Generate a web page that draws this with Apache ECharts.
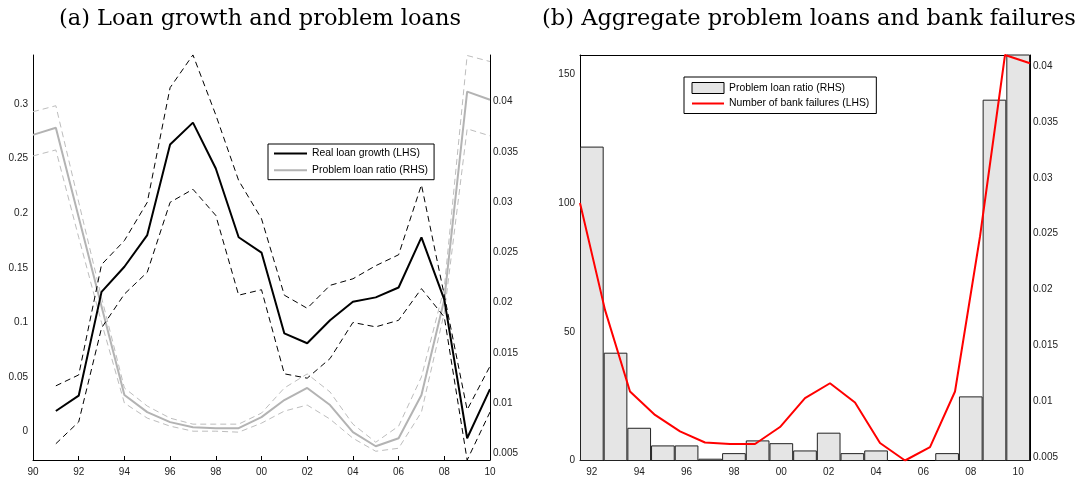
<!DOCTYPE html>
<html><head><meta charset="utf-8">
<script src="https://cdn.jsdelivr.net/npm/echarts@6/dist/echarts.min.js"></script>
<style>html,body{margin:0;padding:0;background:#fff}#c{width:1086px;height:480px}</style>
</head><body><div id="c"></div>
<script>
// ---- Panel (a) data ----
const yearsA = ['90','91','92','93','94','95','96','97','98','99','00','01','02','03','04','05','06','07','08','09','10'];
const loanGrowth      = [null, 0.019, 0.033, 0.128, 0.151, 0.180, 0.263, 0.283, 0.241, 0.178, 0.164, 0.090, 0.081, 0.102, 0.119, 0.123, 0.132, 0.178, 0.121, -0.006, 0.039];
const loanGrowthUpper = [null, 0.042, 0.052, 0.153, 0.175, 0.210, 0.315, 0.345, 0.290, 0.230, 0.195, 0.125, 0.113, 0.134, 0.140, 0.152, 0.162, 0.226, 0.125, 0.020, 0.060];
const loanGrowthLower = [null, -0.011, 0.009, 0.095, 0.126, 0.146, 0.210, 0.222, 0.198, 0.125, 0.130, 0.053, 0.049, 0.067, 0.100, 0.096, 0.102, 0.131, 0.105, -0.026, 0.018];
const problemRatio      = [0.0367, 0.0374, 0.0285, 0.0196, 0.0108, 0.0091, 0.0081, 0.0076, 0.0075, 0.0075, 0.0086, 0.0103, 0.0115, 0.0098, 0.0071, 0.0057, 0.0065, 0.0108, 0.0203, 0.0410, 0.0402];
const problemRatioUpper = [0.0390, 0.0396, 0.0300, 0.0205, 0.0115, 0.0097, 0.0085, 0.0079, 0.0079, 0.0079, 0.0090, 0.0115, 0.0129, 0.0111, 0.0079, 0.0061, 0.0077, 0.0126, 0.0215, 0.0446, 0.0440];
const problemRatioLower = [0.0346, 0.0352, 0.0265, 0.0180, 0.0100, 0.0085, 0.0077, 0.0072, 0.0072, 0.0071, 0.0080, 0.0092, 0.0098, 0.0084, 0.0065, 0.0052, 0.0055, 0.0091, 0.0190, 0.0373, 0.0366];
const leftTicksA  = [0, 0.05, 0.1, 0.15, 0.2, 0.25, 0.3];
const rightTicksA = [0.005, 0.01, 0.015, 0.02, 0.025, 0.03, 0.035, 0.04];

// ---- Panel (b) data ----
const yearsB = ['92','93','94','95','96','97','98','99','00','01','02','03','04','05','06','07','08','09','10'];
const aggProblemRatio = [0.0328, 0.01435, 0.00763, 0.00605, 0.00605, 0.00486, 0.00536, 0.0065, 0.00625, 0.0056, 0.00719, 0.00536, 0.0056, 0.0046, 0.0046, 0.00536, 0.01044, 0.0370, 0.0412];
const bankFailures    = [100, 58.5, 26.8, 17.7, 11.3, 7.0, 6.4, 6.4, 13.0, 24.2, 30.0, 22.5, 6.8, 0, 5.2, 26.8, 87, 157.5, 154.3];
const leftTicksB  = [0, 50, 100, 150];
const rightTicksB = [0.005, 0.01, 0.015, 0.02, 0.025, 0.03, 0.035, 0.04];

const FONT = 'Liberation Sans';
const axLine = {show: true, onZero: false, lineStyle: {color: '#000', width: 1}};
const lbl = {color: '#222', fontSize: 10, fontFamily: FONT};
const tick = {inside: true, length: 4, lineStyle: {color: '#000', width: 1}};
const titleStyle = {fontFamily: 'DejaVu Serif', fontSize: 22.5, fontWeight: 'normal', color: '#000'};

const chart = echarts.init(document.getElementById('c'), null, {renderer: 'canvas'});
chart.setOption({
  animation: false,
  backgroundColor: '#fff',
  title: [
    {text: '(a) Loan growth and problem loans', left: 260, top: 8, padding: 0, textAlign: 'center', textStyle: titleStyle},
    {text: '(b) Aggregate problem loans and bank failures', left: 809, top: 8, padding: 0, textAlign: 'center', textStyle: titleStyle}
  ],
  grid: [
    {left: 33, top: 55, width: 457, height: 405},
    {left: 580, top: 55, width: 450, height: 405.5}
  ],
  xAxis: [
    {gridIndex: 0, type: 'category', data: yearsA, boundaryGap: false, axisLine: axLine,
     axisTick: Object.assign({interval: 1}, tick), axisLabel: Object.assign({interval: 1, margin: 7}, lbl),
     splitLine: {show: false}},
    {gridIndex: 1, type: 'category', data: yearsB, boundaryGap: true, position: 'bottom', axisLine: axLine,
     axisTick: Object.assign({interval: 1, alignWithLabel: true}, tick), axisLabel: Object.assign({interval: 1, margin: 7}, lbl),
     splitLine: {show: false}},
    {gridIndex: 1, type: 'category', data: yearsB, boundaryGap: true, position: 'top', axisLine: axLine,
     axisTick: Object.assign({interval: 1, alignWithLabel: true}, tick), axisLabel: {show: false},
     splitLine: {show: false}},
    {gridIndex: 1, type: 'category', data: yearsB, boundaryGap: false, position: 'bottom', show: false}
  ],
  yAxis: [
    {gridIndex: 0, type: 'value', position: 'left', min: -0.0259, max: 0.3449, axisLine: axLine,
     axisTick: Object.assign({customValues: leftTicksA}, tick),
     axisLabel: Object.assign({customValues: leftTicksA, margin: 5}, lbl), splitLine: {show: false}},
    {gridIndex: 0, type: 'value', position: 'right', min: 0.00433, max: 0.04465, axisLine: axLine,
     axisTick: Object.assign({customValues: rightTicksA}, tick),
     axisLabel: Object.assign({customValues: rightTicksA, margin: 3}, lbl), splitLine: {show: false}},
    {gridIndex: 1, type: 'value', position: 'left', min: 0, max: 157.5, axisLine: axLine,
     axisTick: Object.assign({customValues: leftTicksB}, tick),
     axisLabel: Object.assign({customValues: leftTicksB, margin: 5}, lbl), splitLine: {show: false}},
    {gridIndex: 1, type: 'value', position: 'right', min: 0.0047, max: 0.041, axisLine: axLine,
     axisTick: Object.assign({customValues: rightTicksB}, tick),
     axisLabel: Object.assign({customValues: rightTicksB, margin: 3}, lbl), splitLine: {show: false}}
  ],
  legend: [
    {orient: 'vertical', left: 268, top: 144, padding: [4.5, 6, 4.5, 5], itemWidth: 33, itemHeight: 11, itemGap: 6.7,
     borderColor: '#000', borderWidth: 1, backgroundColor: '#fff', selectedMode: false,
     textStyle: {fontSize: 10.4, fontFamily: FONT, color: '#000'},
     data: [
       {name: 'Real loan growth (LHS)', itemStyle: {opacity: 0}, lineStyle: {color: '#000', width: 2}},
       {name: 'Problem loan ratio (RHS)', itemStyle: {opacity: 0}, lineStyle: {color: '#b3b3b3', width: 2}}
     ]},
    {orient: 'vertical', left: 684, top: 77, padding: [5, 7, 5, 7], itemWidth: 32, itemHeight: 11, itemGap: 4.5,
     borderColor: '#000', borderWidth: 1, backgroundColor: '#fff', selectedMode: false,
     textStyle: {fontSize: 10.4, fontFamily: FONT, color: '#000'},
     data: [
       {name: 'Problem loan ratio (RHS) ', icon: 'rect', itemStyle: {color: '#e5e5e5', borderColor: '#000', borderWidth: 1}},
       {name: 'Number of bank failures (LHS)', itemStyle: {opacity: 0}, lineStyle: {color: '#ff0000', width: 2}}
     ]}
  ],
  series: [
    {name: 'Real loan growth upper', type: 'line', xAxisIndex: 0, yAxisIndex: 0, data: loanGrowthUpper, symbol: 'none',
     lineStyle: {color: '#000', width: 1, type: [6, 4]}, itemStyle: {color: '#000'}, z: 3},
    {name: 'Real loan growth lower', type: 'line', xAxisIndex: 0, yAxisIndex: 0, data: loanGrowthLower, symbol: 'none',
     lineStyle: {color: '#000', width: 1, type: [6, 4]}, itemStyle: {color: '#000'}, z: 3},
    {name: 'Problem loan ratio upper', type: 'line', xAxisIndex: 0, yAxisIndex: 1, data: problemRatioUpper, symbol: 'none',
     lineStyle: {color: '#bdbdbd', width: 1, type: [6, 4]}, itemStyle: {color: '#bdbdbd'}, z: 2},
    {name: 'Problem loan ratio lower', type: 'line', xAxisIndex: 0, yAxisIndex: 1, data: problemRatioLower, symbol: 'none',
     lineStyle: {color: '#bdbdbd', width: 1, type: [6, 4]}, itemStyle: {color: '#bdbdbd'}, z: 2},
    {name: 'Problem loan ratio (RHS)', type: 'line', xAxisIndex: 0, yAxisIndex: 1, data: problemRatio, symbol: 'none',
     lineStyle: {color: '#b3b3b3', width: 2}, itemStyle: {color: '#b3b3b3'}, z: 2},
    {name: 'Real loan growth (LHS)', type: 'line', xAxisIndex: 0, yAxisIndex: 0, data: loanGrowth, symbol: 'none',
     lineStyle: {color: '#000', width: 2}, itemStyle: {color: '#000'}, z: 4},
    {name: 'Problem loan ratio (RHS) ', type: 'bar', xAxisIndex: 1, yAxisIndex: 3, data: aggProblemRatio,
     barCategoryGap: '0%', itemStyle: {color: '#e5e5e5', borderColor: '#222', borderWidth: 1}, z: 2},
    {name: 'Number of bank failures (LHS)', type: 'line', xAxisIndex: 3, yAxisIndex: 2, data: bankFailures, symbol: 'none',
     lineStyle: {color: '#ff0000', width: 2}, itemStyle: {color: '#ff0000'}, z: 4}
  ]
});
</script></body></html>
